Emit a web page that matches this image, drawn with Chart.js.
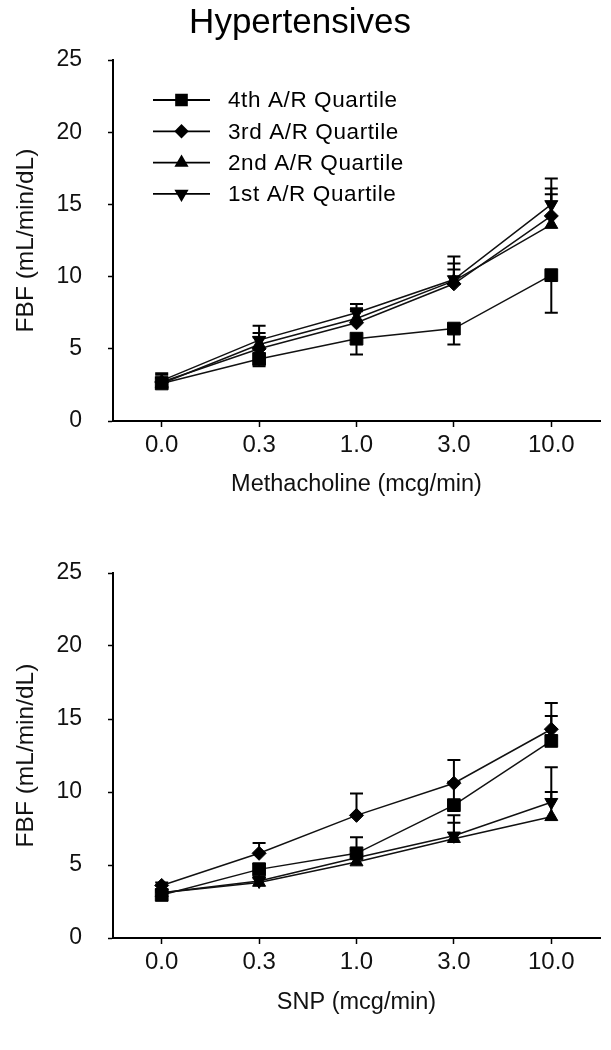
<!DOCTYPE html>
<html>
<head>
<meta charset="utf-8">
<script src="https://cdn.jsdelivr.net/npm/chart.js@4.4.1/dist/chart.umd.min.js"></script>
<style>
  html, body { margin: 0; padding: 0; background: #fff; }
  .box { position: absolute; left: 0; width: 611px; }
  #top { top: 0; height: 520px; }
  #bot { top: 520px; height: 530px; }
</style>
</head>
<body>
<div class="box" id="top"><canvas id="c1"></canvas></div>
<div class="box" id="bot"><canvas id="c2"></canvas></div>
<script>
// ---------- data ----------
const doseLabels = ['0.0', '0.3', '1.0', '3.0', '10.0'];
const seriesNames = ['4th A/R Quartile', '3rd A/R Quartile', '2nd A/R Quartile', '1st A/R Quartile'];
const yTickValues = [0, 5, 10, 15, 20, 25];

// Methacholine (FBF, mL/min/dL)
const methQ4 = [2.6, 4.3, 5.7, 6.4, 10.1];
const methQ3 = [2.7, 5.0, 6.8, 9.5, 14.2];
const methQ2 = [2.6, 5.3, 7.1, 9.7, 13.6];
const methQ1 = [2.8, 5.6, 7.5, 9.8, 15.0];
// error bar lengths (SE); negative = drawn below the point
const methQ4Err = [-0.3, -0.5, -1.1, -1.1, -2.6];
const methQ3Err = [0.5, 0.8, 0.8, 1.0, 1.9];
const methQ2Err = [0.4, 0.8, 0.7, 1.2, 2.1];
const methQ1Err = [0.5, 1.0, 0.6, 1.6, 1.8];

// SNP (FBF, mL/min/dL)
const snpQ4 = [2.95, 4.7, 5.8, 9.1, 13.5];
const snpQ3 = [3.6, 5.8, 8.4, 10.6, 14.3];
const snpQ2 = [3.1, 3.8, 5.2, 6.8, 8.3];
const snpQ1 = [3.1, 3.9, 5.5, 7.0, 9.3];
const snpQ4Err = [0.2, 0.4, 1.1, 1.6, 1.7];
const snpQ3Err = [0.2, 0.7, 1.5, 1.6, 1.8];
const snpQ2Err = [0.2, 0.3, 0.4, 1.1, 1.7];
const snpQ1Err = [0.2, 0.3, 0.5, 1.4, 2.4];

// ---------- styling ----------
const FONT = "'Liberation Sans', Arial, Helvetica, sans-serif";
const markerStyles = [
  { pointStyle: 'rect', radius: 9, rotation: 0 },
  { pointStyle: 'rectRot', radius: 7, rotation: 0 },
  { pointStyle: 'triangle', radius: 7.5, rotation: 0 },
  { pointStyle: 'triangle', radius: 7.5, rotation: 180 }
];

function makeDatasets(values, errs) {
  return values.map((v, i) => ({
    label: seriesNames[i],
    data: v,
    errors: errs[i],
    borderColor: '#111',
    borderWidth: 1.5,
    backgroundColor: '#000',
    pointBackgroundColor: '#000',
    pointBorderColor: '#000',
    pointBorderWidth: 1,
    pointStyle: markerStyles[i].pointStyle,
    pointRadius: markerStyles[i].radius,
    pointRotation: markerStyles[i].rotation,
    pointHoverRadius: markerStyles[i].radius,
    tension: 0,
    fill: false
  }));
}

const errorBarPlugin = {
  id: 'errorBars',
  beforeDatasetsDraw(chart) {
    const ctx = chart.ctx;
    const ys = chart.scales.y;
    ctx.save();
    ctx.strokeStyle = '#000';
    ctx.lineWidth = 2;
    chart.data.datasets.forEach((ds, di) => {
      const meta = chart.getDatasetMeta(di);
      meta.data.forEach((pt, i) => {
        const e = ds.errors[i];
        if (!e) return;
        const yEnd = ys.getPixelForValue(ds.data[i] + e);
        ctx.beginPath();
        ctx.moveTo(pt.x, pt.y);
        ctx.lineTo(pt.x, yEnd);
        ctx.moveTo(pt.x - 6.5, yEnd);
        ctx.lineTo(pt.x + 6.5, yEnd);
        ctx.stroke();
      });
    });
    ctx.restore();
  }
};

const legendPlugin = {
  id: 'insideLegend',
  afterDraw(chart, args, opts) {
    if (!opts.show) return;
    const ctx = chart.ctx;
    const a = chart.chartArea;
    const x0 = a.left + 40;
    const y0 = a.top + 40;
    const rowH = 31.3;
    ctx.save();
    ctx.font = '22.5px ' + FONT;
    if ('letterSpacing' in ctx) ctx.letterSpacing = '0.6px';
    ctx.textBaseline = 'middle';
    ctx.fillStyle = '#000';
    chart.data.datasets.forEach((ds, i) => {
      const y = y0 + i * rowH;
      ctx.strokeStyle = '#000';
      ctx.lineWidth = 1.8;
      ctx.beginPath();
      ctx.moveTo(x0, y);
      ctx.lineTo(x0 + 57, y);
      ctx.stroke();
      ctx.fillStyle = '#000';
      Chart.helpers.drawPoint(ctx, {
        pointStyle: markerStyles[i].pointStyle,
        radius: markerStyles[i].radius * 0.85,
        rotation: markerStyles[i].rotation,
        borderWidth: 1
      }, x0 + 28.5, y);
      ctx.fillText(ds.label, x0 + 75, y + 1);
    });
    ctx.restore();
  }
};

function makeOptions(xTitle, withTitle, yAxisWidth, xAxisHeight, padTop, xTitlePadBottom) {
  return {
    responsive: true,
    maintainAspectRatio: false,
    animation: false,
    layout: { padding: { top: padTop, right: 11, left: 0, bottom: 0 } },
    plugins: {
      legend: { display: false },
      tooltip: { enabled: false },
      insideLegend: { show: withTitle },
      title: {
        display: withTitle,
        text: 'Hypertensives',
        color: '#000',
        font: { family: FONT, size: 35, weight: 'normal' },
        padding: { top: 0, bottom: 16 }
      }
    },
    scales: {
      x: {
        type: 'category',
        offset: true,
        grid: { drawOnChartArea: false, offset: false, tickLength: 6, tickColor: '#000', tickWidth: 1.5 },
        border: { display: true, color: '#000', width: 2 },
        ticks: { color: '#111', font: { family: FONT, size: 24 }, padding: 4, maxRotation: 0 },
        title: { display: true, text: xTitle, color: '#111', font: { family: FONT, size: 23.5 }, padding: { top: 0, bottom: xTitlePadBottom } },
        afterFit(scale) { scale.height = xAxisHeight; }
      },
      y: {
        min: 0, max: 25,
        afterBuildTicks(scale) { scale.ticks = yTickValues.map(v => ({ value: v })); },
        grid: { drawOnChartArea: false, tickLength: 5, tickColor: '#000', tickWidth: 1.5 },
        border: { display: true, color: '#000', width: 2 },
        ticks: { color: '#111', font: { family: FONT, size: 23 }, padding: 26 },
        title: { display: true, text: 'FBF (mL/min/dL)', color: '#111', font: { family: FONT, size: 24.5 }, padding: { top: 12, bottom: 0 } },
        afterFit(scale) { scale.width = yAxisWidth; }
      }
    }
  };
}

new Chart(document.getElementById('c1'), {
  type: 'line',
  data: { labels: doseLabels, datasets: makeDatasets([methQ4, methQ3, methQ2, methQ1], [methQ4Err, methQ3Err, methQ2Err, methQ1Err]) },
  options: makeOptions('Methacholine (mcg/min)', true, 113, 99, 2, 21),
  plugins: [errorBarPlugin, legendPlugin]
});

new Chart(document.getElementById('c2'), {
  type: 'line',
  data: { labels: doseLabels, datasets: makeDatasets([snpQ4, snpQ3, snpQ2, snpQ1], [snpQ4Err, snpQ3Err, snpQ2Err, snpQ1Err]) },
  options: makeOptions('SNP (mcg/min)', false, 113, 112, 53, 33),
  plugins: [errorBarPlugin, legendPlugin]
});
</script>
</body>
</html>
